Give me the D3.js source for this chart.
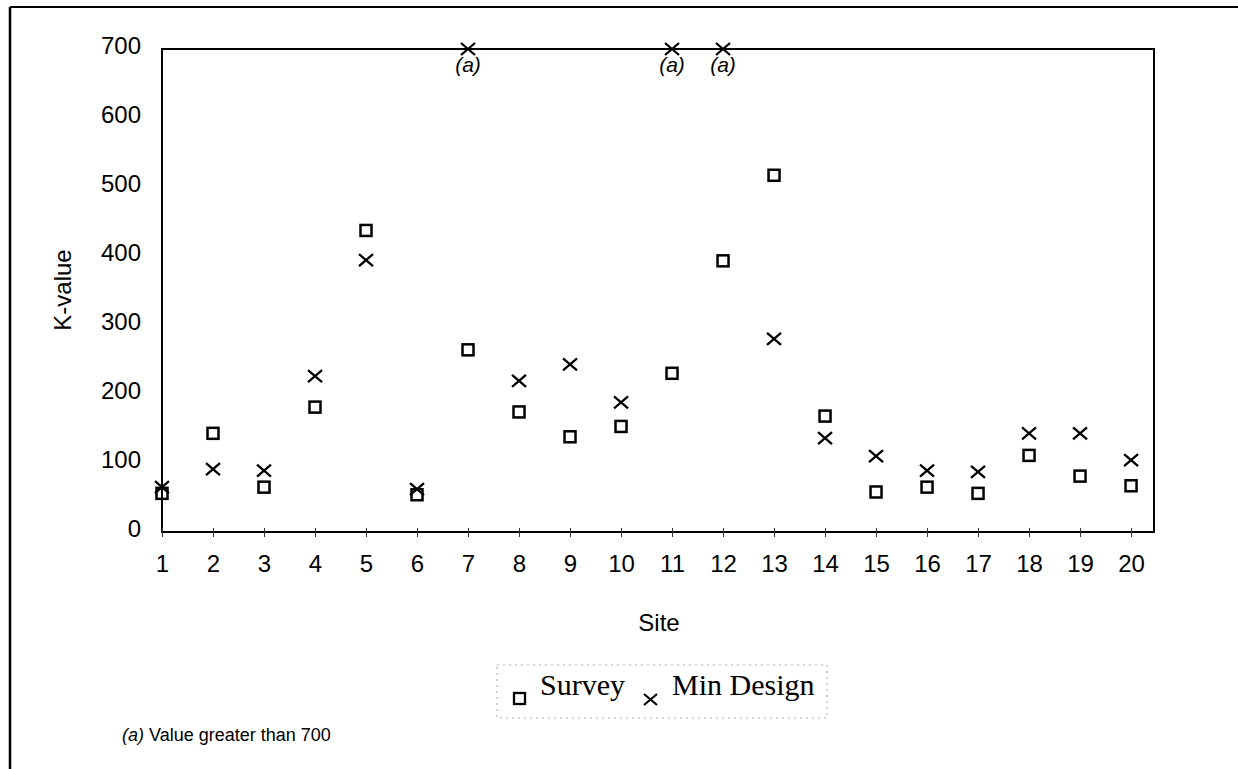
<!DOCTYPE html>
<html>
<head>
<meta charset="utf-8">
<script src="https://cdn.jsdelivr.net/npm/d3@7"></script>
<style>
  html, body { margin: 0; padding: 0; background: #fff; }
  svg { display: block; }
</style>
</head>
<body>
<svg id="chart" width="1238" height="769"></svg>
<script>
// ---- data ----
const sites = [1,2,3,4,5,6,7,8,9,10,11,12,13,14,15,16,17,18,19,20];
const survey = [56,143,65,181,437,54,264,174,138,153,230,393,517,168,58,65,56,111,81,67];
// values greater than 700 are shown at the 700 limit and flagged "(a)"
const minDesign = [65,91,89,226,394,62,700,219,243,188,700,700,280,136,110,89,87,143,143,104];
const exceedsLimit = [7,11,12];
const yTicks = [0,100,200,300,400,500,600,700];
const seriesNames = ["Survey","Min Design"];

// ---- layout ----
const svg = d3.select("#chart");
const plotL = 162, plotR = 1154, plotT = 49, plotB = 532;
const x = d3.scaleLinear().domain([1, 20.45]).range([plotL, plotR]);
const y = d3.scaleLinear().domain([0, 700]).range([plotB, plotT]);
const font = "'Liberation Sans', Arial, sans-serif";
const serif = "'Liberation Serif','Times New Roman',serif";

// outer frame (left and top edges visible)
svg.append("line").attr("x1",10).attr("y1",7).attr("x2",1238).attr("y2",7)
  .attr("stroke","#000").attr("stroke-width",2);
svg.append("line").attr("x1",10).attr("y1",7).attr("x2",10).attr("y2",769)
  .attr("stroke","#000").attr("stroke-width",2.5);

// plot frame
svg.append("rect").attr("x",plotL).attr("y",plotT).attr("width",plotR-plotL).attr("height",plotB-plotT)
  .attr("fill","none").attr("stroke","#000").attr("stroke-width",2);

// axes
const xAxis = d3.axisBottom(x).tickValues(sites).tickFormat(d3.format("d"))
  .tickSizeInner(5).tickSizeOuter(0).tickPadding(18);
const gx = svg.append("g").attr("transform",`translate(0,${plotB})`).call(xAxis);
gx.select(".domain").remove();
gx.selectAll(".tick line").attr("y1",-4).attr("y2",5).attr("stroke","#333").attr("stroke-width",1);
gx.selectAll("text").attr("font-family",font).attr("font-size",24).attr("fill","#000");

const yAxis = d3.axisLeft(y).tickValues(yTicks).tickSizeInner(0).tickSizeOuter(0).tickPadding(21);
const gy = svg.append("g").attr("transform",`translate(${plotL},0)`).call(yAxis);
gy.select(".domain").remove();
gy.selectAll("text").attr("font-family",font).attr("font-size",24).attr("fill","#000").attr("dy","0.2em");

// axis titles
svg.append("text").attr("x",659).attr("y",631).attr("text-anchor","middle")
  .attr("font-family",font).attr("font-size",24).text("Site");
svg.append("text").attr("transform","translate(71,290) rotate(-90)").attr("text-anchor","middle")
  .attr("font-family",font).attr("font-size",24).text("K-value");

// markers
const sq = 11, xw = 7, xh = 6;
svg.append("g").selectAll("rect").data(sites).join("rect")
  .attr("x", (d,i) => x(d) - sq/2).attr("y", (d,i) => y(survey[i]) - sq/2)
  .attr("width", sq).attr("height", sq)
  .attr("fill","none").attr("stroke","#000").attr("stroke-width",2.5);

svg.append("g").selectAll("path").data(sites).join("path")
  .attr("d", (d,i) => {
    const cx = x(d), cy = y(minDesign[i]);
    return `M${cx-xw},${cy-xh}L${cx+xw},${cy+xh}M${cx-xw},${cy+xh}L${cx+xw},${cy-xh}`;
  })
  .attr("stroke","#000").attr("stroke-width",2.3).attr("fill","none");

// "(a)" annotations
svg.append("g").selectAll("text").data(exceedsLimit).join("text")
  .attr("x", d => x(d)).attr("y", y(700) + 23).attr("text-anchor","middle")
  .attr("font-family",font).attr("font-style","italic").attr("font-size",21).text("(a)");

// legend
const lg = svg.append("g");
lg.append("rect").attr("x",497).attr("y",665).attr("width",330).attr("height",53)
  .attr("fill","none").attr("stroke","#aaa").attr("stroke-width",1).attr("stroke-dasharray","2,4");
lg.append("rect").attr("x",514).attr("y",693).attr("width",11).attr("height",11)
  .attr("fill","none").attr("stroke","#000").attr("stroke-width",2.3);
lg.append("text").attr("x",540).attr("y",695).attr("font-family",serif)
  .attr("font-size",30).text(seriesNames[0]);
lg.append("path").attr("d","M644,694L657,705M644,705L657,694").attr("stroke","#000").attr("stroke-width",2.2);
lg.append("text").attr("x",672).attr("y",695).attr("font-family",serif)
  .attr("font-size",30).text(seriesNames[1]);

// footnote
const fn = svg.append("text").attr("x",122).attr("y",741).attr("font-family",font).attr("font-size",18);
fn.append("tspan").attr("font-style","italic").text("(a)");
fn.append("tspan").text("  Value greater than 700");
</script>
</body>
</html>
